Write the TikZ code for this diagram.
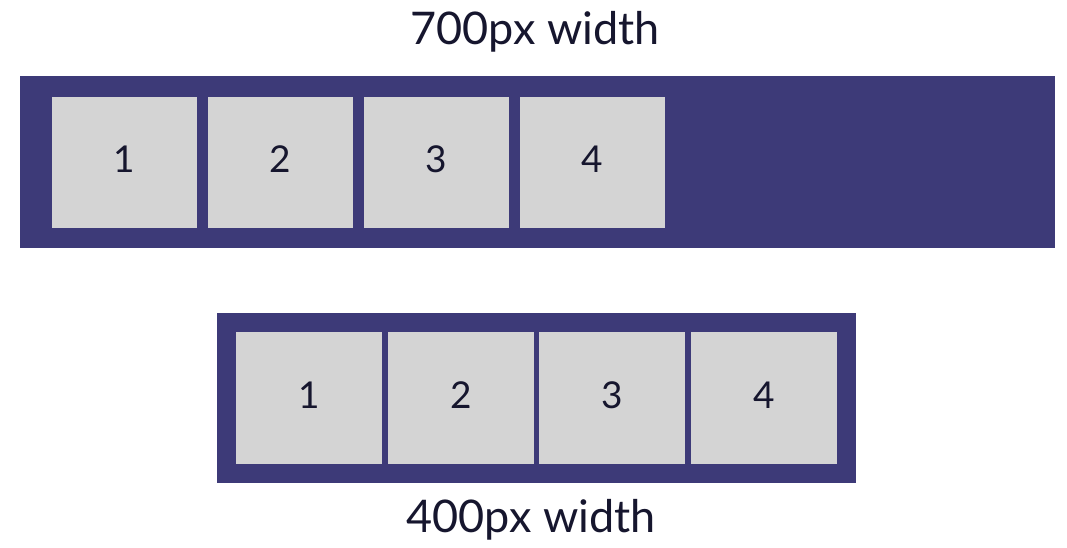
\documentclass[tikz,border=0pt]{standalone}
\usepackage{fontspec}
\setmainfont{Lato}
\definecolor{barcol}{HTML}{3D3A78}
\definecolor{boxcol}{HTML}{D4D4D4}
\definecolor{txtcol}{HTML}{16162E}
\begin{document}
\begin{tikzpicture}[x=1pt,y=-1pt,
  bar/.style={fill=barcol,draw=none},
  cell/.style={fill=boxcol,draw=none},
  digit/.style={anchor=base,text=txtcol,font=\fontsize{37}{40}\selectfont,inner sep=0pt},
  label/.style={anchor=base,text=txtcol,font=\fontsize{45}{50}\selectfont,inner sep=0pt}]
\useasboundingbox[fill=white] (0,0) rectangle (1067,547);
% top bar
\path[bar] (20,76) rectangle (1055,248);
\foreach \i/\x in {1/52,2/208,3/364,4/520}{
  \path[cell] (\x,97) rectangle ++(145,131);
  \node[digit] (t\i) at (\x+72.5,172) {\i};
}
\node[label] (top) at (535,44) {700px width};
% bottom bar
\path[bar] (217,313) rectangle (856,483);
\foreach \i/\x in {1/236,2/388,3/539,4/691}{
  \path[cell] (\x,332) rectangle ++(146,132);
  \node[digit] (b\i) at (\x+73,408) {\i};
}
\node[label] (bottom) at (531,532) {400px width};
\end{tikzpicture}
\end{document}
